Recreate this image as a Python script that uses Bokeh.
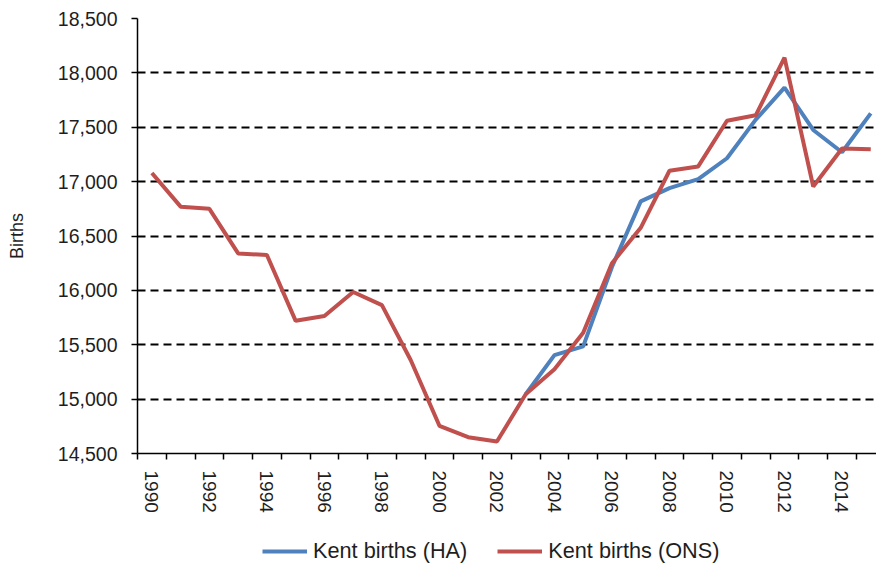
from bokeh.plotting import figure
from bokeh.layouts import column
from bokeh.models import FixedTicker, NumeralTickFormatter, Legend, LegendItem, Range1d
from bokeh.embed import file_html
from bokeh.resources import INLINE

# ---- data ----
years_ons = list(range(1990, 2016))
births_ons = [17080, 16770, 16750, 16340, 16325, 15720, 15765, 15985, 15865, 15360,
              14755, 14650, 14610, 15045, 15275, 15610, 16250, 16575, 17100, 17140,
              17560, 17610, 18140, 16955, 17305, 17298]
years_ha = list(range(2003, 2016))
births_ha = [15045, 15405, 15485, 16215, 16818, 16940, 17023, 17215, 17570, 17864,
             17475, 17270, 17628]
y_ticks = [14500, 15000, 15500, 16000, 16500, 17000, 17500, 18000, 18500]
x_label_years = list(range(1990, 2015, 2))
x_boundaries = [y - 0.5 for y in range(1990, 2017)]

FONT = "Liberation Sans"
TXT = "#1e1e1e"
BLUE = "#4F81BD"
RED = "#C0504D"

xr = Range1d(1989.5, 2015.2)
p = figure(width=876, height=515, output_backend="svg", toolbar_location=None,
           x_range=xr, y_range=Range1d(14500, 18500),
           min_border_left=137, min_border_right=0, min_border_top=18,
           min_border_bottom=61)
p.outline_line_color = None
p.background_fill_color = "white"
p.border_fill_color = "white"

# axes
xa = p.xaxis[0]
xa.ticker = FixedTicker(ticks=x_label_years, minor_ticks=x_boundaries)
xa.major_tick_out = 0
xa.major_tick_in = 0
xa.minor_tick_out = 6
xa.minor_tick_in = 0
xa.minor_tick_line_color = "black"
xa.minor_tick_line_width = 1.5
xa.axis_line_color = "black"
xa.axis_line_width = 1.5
xa.major_label_orientation = "vertical"
xa.major_label_standoff = 11
xa.major_label_text_font = FONT
xa.major_label_text_font_size = "19px"
xa.major_label_text_color = TXT

ya = p.yaxis[0]
ya.ticker = FixedTicker(ticks=y_ticks)
ya.formatter = NumeralTickFormatter(format="0,0")
ya.major_tick_out = 6
ya.major_tick_in = 0
ya.minor_tick_out = 0
ya.minor_tick_in = 0
ya.major_tick_line_color = "black"
ya.major_tick_line_width = 1.5
ya.axis_line_color = "black"
ya.axis_line_width = 1.5
ya.major_label_standoff = 14
ya.major_label_text_font = FONT
ya.major_label_text_font_size = "19.5px"
ya.major_label_text_color = TXT
ya.axis_label = "Births"
ya.axis_label_text_font = FONT
ya.axis_label_text_font_size = "18px"
ya.axis_label_text_font_style = "normal"
ya.axis_label_text_color = TXT
ya.axis_label_standoff = 28

# grid
p.xgrid.grid_line_color = None
p.ygrid.ticker = FixedTicker(ticks=y_ticks)
p.ygrid.grid_line_color = "black"
p.ygrid.grid_line_width = 2
p.ygrid.grid_line_dash = "8 5"

# lines
p.line(years_ha, births_ha, line_color=BLUE, line_width=4)
p.line(years_ons, births_ons, line_color=RED, line_width=4)

# legend strip (same series; their data lie outside this strip's view)
pl = figure(width=876, height=50, output_backend="svg", toolbar_location=None,
            x_range=xr, y_range=Range1d(0, 1),
            x_axis_location=None, y_axis_location=None,
            min_border_left=0, min_border_right=0, min_border_top=0,
            min_border_bottom=0)
pl.outline_line_color = None
pl.xgrid.visible = False
pl.ygrid.visible = False
l_ha = pl.line(years_ha, births_ha, line_color=BLUE, line_width=4)
l_ons = pl.line(years_ons, births_ons, line_color=RED, line_width=4)

legend = Legend(items=[LegendItem(label="Kent births (HA)", renderers=[l_ha]),
                       LegendItem(label="Kent births (ONS)", renderers=[l_ons])],
                orientation="horizontal", location=(125, 1),
                glyph_width=45, glyph_height=24, label_height=24,
                label_standoff=6, spacing=30,
                padding=0, margin=0, border_line_color=None,
                background_fill_alpha=0,
                label_text_font=FONT, label_text_font_size="21.7px",
                label_text_color=TXT)
pl.add_layout(legend, "center")

layout = column(p, pl, spacing=0)
open("out.html", "w").write(file_html(layout, INLINE))
